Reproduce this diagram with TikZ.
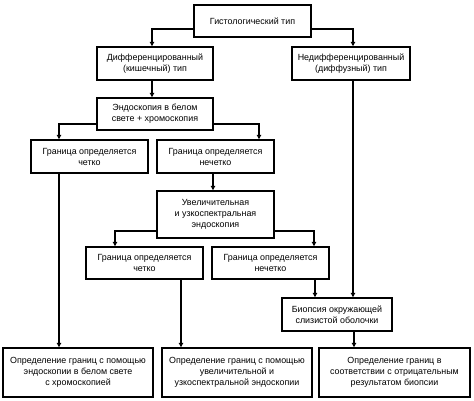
\documentclass[tikz,border=0pt]{standalone}
\usepackage{fontspec}
\setmainfont{Liberation Sans}
\usetikzlibrary{arrows.meta}
\begin{document}
\begin{tikzpicture}[x=1pt,y=-1pt,
  box/.style={draw,line width=1.5pt,rectangle,align=center,inner sep=1pt,
    font=\fontsize{8.9}{11}\selectfont},
  arr/.style={line width=1.2pt,-{Triangle[length=4.5pt,width=4.5pt]}}]
\useasboundingbox (0,0) rectangle (474,400);
\node[box,minimum width=117pt,minimum height=32pt] (g) at (252.5,21) {Гистологический тип};
\node[box,minimum width=116pt,minimum height=33pt] (d) at (155,63.5) {Дифференцированный\\(кишечный) тип};
\node[box,minimum width=118pt,minimum height=33pt] (n) at (351,63.5) {Недифференцированный\\(диффузный) тип};
\node[box,minimum width=116pt,minimum height=32pt] (e) at (155,114) {Эндоскопия в белом\\свете + хромоскопия};
\node[box,minimum width=117pt,minimum height=33pt] (c1) at (89.5,156.5) {Граница определяется\\четко};
\node[box,minimum width=117pt,minimum height=33pt] (u1) at (215.5,156.5) {Граница определяется\\нечетко};
\node[box,minimum width=117pt,minimum height=47pt] (m) at (215.5,214.5) {Увеличительная\\и узкоспектральная\\эндоскопия};
\node[box,minimum width=117pt,minimum height=32pt] (c2) at (144.5,263) {Граница определяется\\четко};
\node[box,minimum width=117pt,minimum height=32pt] (u2) at (270.5,263) {Граница определяется\\нечетко};
\node[box,minimum width=110pt,minimum height=33pt] (b) at (337,314.5) {Биопсия окружающей\\слизистой оболочки};
\node[box,minimum width=150pt,minimum height=49pt] (r1) at (78,372.5) {Определение границ с помощью\\эндоскопии в белом свете\\с хромоскопией};
\node[box,minimum width=150pt,minimum height=49pt] (r2) at (237,372.5) {Определение границ с помощью\\увеличительной и\\узкоспектральной эндоскопии};
\node[box,minimum width=151pt,minimum height=49pt] (r3) at (394.5,372.5) {Определение границ в\\соответствии с отрицательным\\результатом биопсии};
% arrows
\draw[arr] ([yshift=-8pt]g.west) -| ([xshift=-3pt]d.north);
\draw[arr] ([yshift=-8pt]g.east) -| ([xshift=2pt]n.north);
\draw[arr] ([xshift=-3pt]d.south) -- ([xshift=-3pt]e.north);
\draw[arr] ([yshift=-10pt]e.west) -| ([xshift=-30.5pt]c1.north);
\draw[arr] ([yshift=-10pt]e.east) -| ([xshift=43.5pt]u1.north);
\draw[arr] ([xshift=-30.5pt]c1.south) -- ([xshift=-30.5pt]c1.south |- r1.north);
\draw[arr] ([xshift=-2.5pt]u1.south) -- ([xshift=-2.5pt]m.north);
\draw[arr] ([yshift=-16.5pt]m.west) -| ([xshift=-29.5pt]c2.north);
\draw[arr] ([yshift=-16.5pt]m.east) -| ([xshift=43.5pt]u2.north);
\draw[arr] ([xshift=36.5pt]c2.south) -- ([xshift=36.5pt]c2.south |- r2.north);
\draw[arr] ([xshift=44.5pt]u2.south) -- ([xshift=44.5pt]u2.south |- b.north);
\draw[arr] ([xshift=2pt]n.south) -- ([xshift=2pt]n.south |- b.north);
\draw[arr] ([xshift=17pt]b.south) -- ([xshift=17pt]b.south |- r3.north);
\end{tikzpicture}
\end{document}
